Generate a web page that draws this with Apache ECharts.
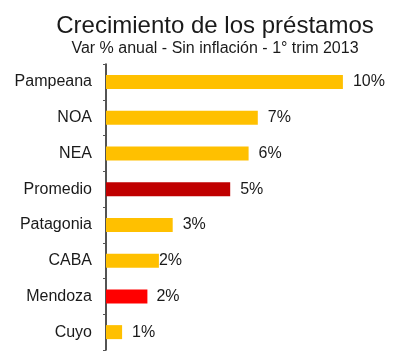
<!DOCTYPE html>
<html>
<head>
<meta charset="utf-8">
<script src="https://cdn.jsdelivr.net/npm/echarts@6/dist/echarts.min.js"></script>
<style>html,body{margin:0;padding:0;background:#fff}#c{width:400px;height:357px}</style>
</head>
<body>
<div id="c"></div>
<script>
var categories = ["Pampeana", "NOA", "NEA", "Promedio", "Patagonia", "CABA", "Mendoza", "Cuyo"];
var values = [10.3, 6.6, 6.2, 5.4, 2.9, 2.3, 1.8, 0.7];
var barColors = ["#FFC000", "#FFC000", "#FFC000", "#C00000", "#FFC000", "#FFC000", "#FF0000", "#FFC000"];
var labelGaps = [10, 10, 10, 10, 10, 0, 9, 10];

var chart = echarts.init(document.getElementById('c'));
var font = "'Liberation Sans', Arial, sans-serif";
chart.setOption({
  animation: false,
  backgroundColor: '#fff',
  title: [
    { text: 'Crecimiento de los préstamos', left: 210, top: 8, textAlign: 'center',
      textStyle: { fontFamily: font, fontSize: 24, fontWeight: 'normal', color: '#1a1a1a', lineHeight: 27 } },
    { text: 'Var % anual - Sin inflación - 1° trim 2013', left: 210, top: 35, textAlign: 'center',
      textStyle: { fontFamily: font, fontSize: 16, fontWeight: 'normal', color: '#1a1a1a', lineHeight: 18 } }
  ],
  grid: { left: 106, right: 18, top: 64, bottom: 7 },
  xAxis: { type: 'value', min: 0, max: 12, show: false },
  yAxis: {
    type: 'category', inverse: true, data: categories,
    axisLine: { lineStyle: { color: '#1a1a1a', width: 1.5 } },
    axisTick: { show: true, length: 3, lineStyle: { color: '#555' } },
    axisLabel: { fontFamily: font, fontSize: 16, color: '#1a1a1a', margin: 14 }
  },
  series: [{
    type: 'bar',
    barWidth: 14,
    data: values.map(function (v, i) {
      return { value: v, itemStyle: { color: barColors[i] }, label: { distance: labelGaps[i] } };
    }),
    label: {
      show: true, position: 'right',
      fontFamily: font, fontSize: 16, color: '#1a1a1a',
      formatter: function (p) { return Math.round(p.value) + '%'; }
    }
  }]
});
</script>
</body>
</html>
